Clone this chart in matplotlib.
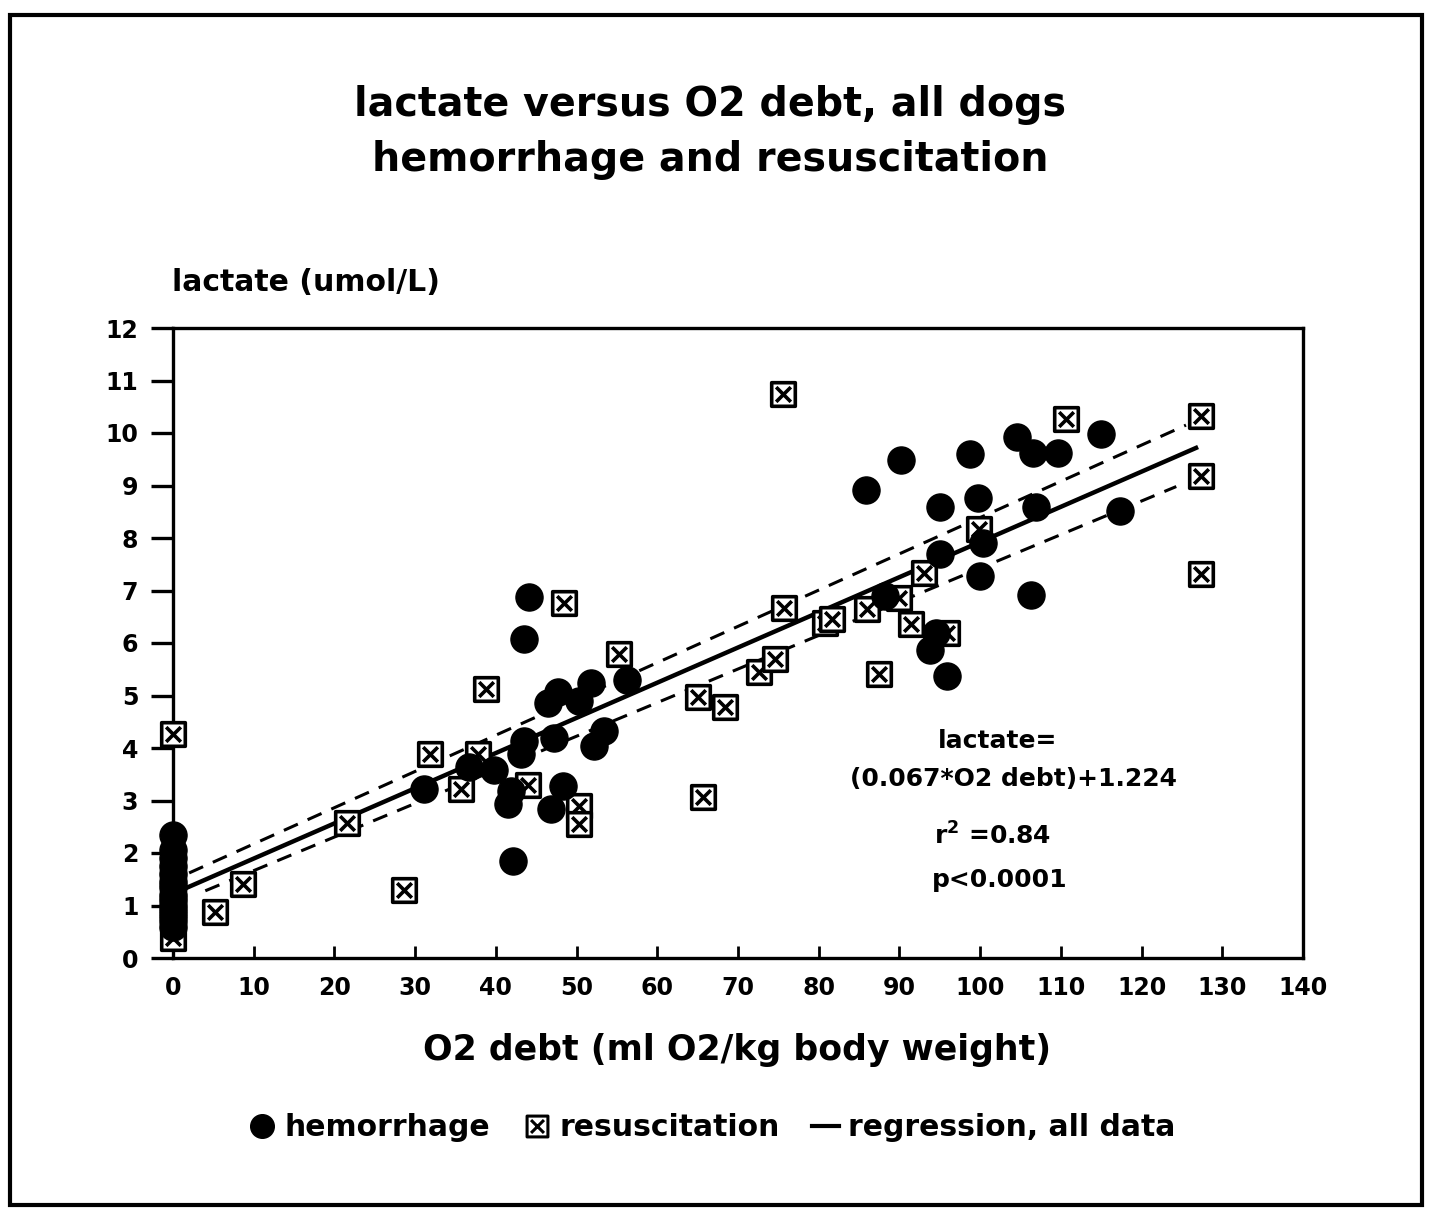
import matplotlib
matplotlib.use('Agg')
import matplotlib.pyplot as plt
from matplotlib.path import Path
from matplotlib.lines import Line2D
from matplotlib.patches import Rectangle

plt.rcParams['font.family'] = ['DejaVu Sans']
plt.rcParams['font.weight'] = 'bold'

# hemorrhage samples: O2 debt (ml O2/kg) and lactate (umol/L)
hem_debt = [0, 0, 0, 0, 0, 0, 0, 0, 0, 0, 0, 0, 0, 0,
            31.1, 36.7, 39.8, 41.5, 41.9, 42.1, 43.1, 43.5, 43.5, 44.1,
            46.5, 47.7, 47.2, 46.8, 48.3, 50.3, 51.8, 52.2, 53.4, 56.2,
            88.2, 85.9, 90.2, 94.5, 93.8, 95.9, 95.0, 95.0, 98.7, 99.7,
            100.3, 100.0, 104.6, 106.5, 109.6, 106.9, 106.3, 115.0, 117.3]
hem_lactate = [2.35, 2.05, 1.9, 1.75, 1.6, 1.45, 1.35, 1.2, 1.1, 1.0, 0.9, 0.8, 0.7, 0.6,
               3.21, 3.64, 3.59, 2.93, 3.18, 1.85, 3.88, 4.13, 6.08, 6.87,
               4.86, 5.06, 4.20, 2.83, 3.27, 4.90, 5.23, 4.04, 4.33, 5.29,
               6.90, 8.92, 9.49, 6.20, 5.87, 5.38, 8.59, 7.69, 9.60, 8.76,
               7.90, 7.27, 9.92, 9.61, 9.62, 8.59, 6.91, 9.99, 8.51]

# resuscitation samples
res_debt = [0, 0, 0, 0, 5.2, 8.7, 21.6, 28.6, 31.9, 35.7, 37.8, 38.8, 44.0, 48.5,
            50.3, 50.3, 55.3, 65.1, 65.7, 68.4, 72.6, 74.6, 75.6, 75.7, 80.8,
            81.7, 86.0, 87.5, 90.0, 91.4, 93.1, 95.9, 99.9, 110.6, 127.4, 127.4, 127.4]
res_lactate = [4.26, 0.38, 1.5, 1.0, 0.87, 1.41, 2.57, 1.30, 3.88, 3.22, 3.89, 5.13, 3.29, 6.76,
               2.90, 2.56, 5.80, 4.98, 3.07, 4.79, 5.44, 5.69, 10.75, 6.66, 6.39,
               6.45, 6.65, 5.41, 6.85, 6.37, 7.33, 6.19, 8.18, 10.27, 10.33, 9.18, 7.31]

# fitted line: lactate = 0.067 * O2 debt + 1.224
slope = 0.067
intercept = 1.224
fit_range = [1, 127]

# confidence band end points (x, lactate)
band_upper_x = [2, 125.5]
band_upper_y = [1.62, 10.15]
band_lower_x = [4, 124.3]
band_lower_y = [1.28, 8.98]

x_ticks = list(range(0, 150, 10))
y_ticks = list(range(0, 13))

# square with a cross inside, used for resuscitation points
box_x = Path(
    [(-1, -1), (1, -1), (1, 1), (-1, 1), (-1, -1),
     (-0.62, -0.62), (0.62, 0.62), (-0.62, 0.62), (0.62, -0.62)],
    [Path.MOVETO, Path.LINETO, Path.LINETO, Path.LINETO, Path.CLOSEPOLY,
     Path.MOVETO, Path.LINETO, Path.MOVETO, Path.LINETO])

fig = plt.figure(figsize=(14.33, 12.10), dpi=100)
ax = fig.add_axes([173 / 1433, 1 - 958 / 1210, 1130 / 1433, 630 / 1210])

fit_y = [slope * v + intercept for v in fit_range]
ax.plot(fit_range, fit_y, color='black', lw=3.2, solid_capstyle='butt', zorder=2)
ax.plot(band_upper_x, band_upper_y, color='black', lw=2.2, ls=(0, (5, 3.5)), zorder=2)
ax.plot(band_lower_x, band_lower_y, color='black', lw=2.2, ls=(0, (5, 3.5)), zorder=2)

ax.plot(res_debt, res_lactate, ls='none', marker=box_x, ms=17, mfc='white',
        mec='black', mew=2.6, zorder=3, clip_on=False)
ax.plot(hem_debt, hem_lactate, ls='none', marker='o', ms=19.5, color='black',
        zorder=4, clip_on=False)

ax.set_xlim(0, 140)
ax.set_ylim(0, 12)
ax.set_xticks(x_ticks)
ax.set_yticks(y_ticks)
ax.tick_params(axis='x', direction='in', length=9, width=2, pad=13, labelsize=17)
ax.tick_params(axis='y', direction='out', length=16, width=2.4, pad=9, labelsize=17)
for side in ['left', 'bottom', 'top', 'right']:
    ax.spines[side].set_linewidth(2.4)

# annotation with the regression result
ax.text((995 - 173) / 8.046, (958 - 742) / 52.33, 'lactate=', ha='center', va='center', fontsize=18)
ax.text((1011 - 173) / 8.046, (958 - 780) / 52.33, '(0.067*O2 debt)+1.224', ha='center', va='center', fontsize=18)
ax.text((990 - 173) / 8.046, (958 - 836) / 52.33, r'r$^{\mathbf{2}}$ =0.84', ha='center', va='center', fontsize=18)
ax.text((997 - 173) / 8.046, (958 - 880) / 52.33, 'p<0.0001', ha='center', va='center', fontsize=18)

fig.text(0.4955, 1 - 105 / 1210, 'lactate versus O2 debt, all dogs', ha='center', va='center', fontsize=28.5)
fig.text(0.4955, 1 - 160 / 1210, 'hemorrhage and resuscitation', ha='center', va='center', fontsize=28.5)
fig.text(172 / 1433, 1 - 282 / 1210, 'lactate (umol/L)', ha='left', va='center', fontsize=21.5)
fig.text(737 / 1433, 1 - 1050 / 1210, 'O2 debt (ml O2/kg body weight)', ha='center', va='center', fontsize=25)

handles = [
    Line2D([], [], ls='none', marker='o', ms=17, color='black'),
    Line2D([], [], ls='none', marker=box_x, ms=15, mfc='white', mec='black', mew=2.2),
    Line2D([], [], color='black', lw=3),
]
fig.legend(handles, ['hemorrhage', 'resuscitation', 'regression, all data'],
           loc='center', bbox_to_anchor=(0.497, 1 - 1128 / 1210), ncol=3, frameon=False,
           fontsize=21.5, handlelength=0.9, handletextpad=0.3, columnspacing=1.1, borderpad=0)

# outer border around the whole page
fig.patches.append(Rectangle((10 / 1433, 5 / 1210), 1412 / 1433, 1190 / 1210,
                             transform=fig.transFigure, fill=False, lw=3, color='black'))

fig.savefig('out.png', dpi=100, facecolor='white')
